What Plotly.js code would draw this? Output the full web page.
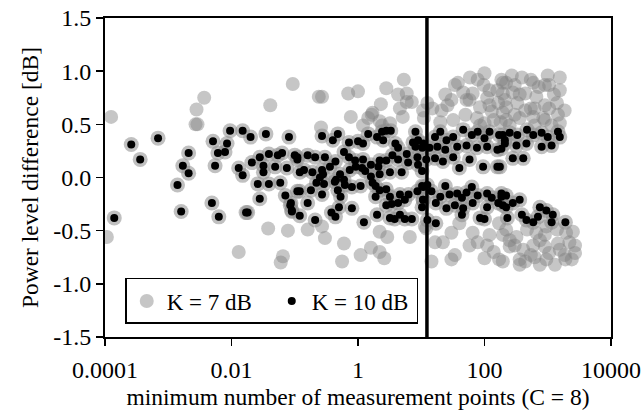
<!DOCTYPE html>
<html>
<head>
<meta charset="utf-8">
<script src="https://cdn.plot.ly/plotly-3.0.1.min.js"></script>
<style>html,body{margin:0;padding:0;background:#fff;}#chart{width:643px;height:412px;}</style>
</head>
<body>
<div id="chart"></div>
<script>
// K = 7 dB series (grey)
var k7X = [1.25e-4,1.07e-4,3.7e-3,2.8e-3,2.7e-3,2.9e-3,0.041,0.093,0.013,0.038,0.078,0.065,0.06,
  0.24,0.27,0.7,1.0,0.77,1.7,2.3,2.8,5.3,4.3,5.9,7.1,5.1,1.2,2.2,3.2,0.26,1.45,10.7,4.6,
  0.16,0.27,0.30,0.6,0.56,1.1,1.6,2.2,2.6,2.2,2.9,6.6,11.4,
  38,59,78,97,46,65,52,110,160,195,165,85,130,195,26,15,21,12.5,32,20,11,76,140,100,
  12,16.5,30,40,65,78,110,140,170,100,30,14.5,22,170,195,
  220,390,590,1000,1050,195,280,440,660,1400,900,220,330,540,1450,1550,850,590,360,220,1150,185,
  30,120,300,720,1250,440,900,1850,250,85,620,
  220,320,470,660,950,1400,1950,2500,250,410,590,900,1450,2200,2700,195,360,950,1900,1050,2400,620,
  300,750,1550,440,1300,1.65,2.4,5.9,
  34,58,120,210,360,540,900,1550,1050,620,300,180,50,24,1550,270,100,
  250,540,900,1850,2700,120,360,750,58,34];
var k7Y = [0.57,-0.56,0.75,0.64,0.50,0.50,0.68,0.88,-0.70,-0.48,-0.50,-0.74,-0.80,
  0.76,0.76,0.79,0.81,0.57,0.61,0.69,0.84,0.92,0.78,0.79,0.71,0.57,0.49,0.53,0.51,0.47,0.56,0.63,0.65,
  -0.49,-0.46,-0.57,-0.62,-0.79,-0.73,-0.66,-0.70,-0.76,-0.51,-0.56,-0.56,-0.46,
  0.89,0.94,0.92,0.87,0.80,0.79,0.73,0.75,0.82,0.89,0.70,0.66,0.62,0.61,0.68,0.65,0.63,0.70,0.54,0.52,0.56,0.56,0.54,0.51,
  -0.48,-0.61,-0.52,-0.43,-0.52,-0.61,-0.64,-0.70,-0.77,-0.76,-0.77,-0.79,-0.61,-0.43,-0.54,
  0.89,0.94,0.89,0.96,0.87,0.79,0.80,0.79,0.76,0.70,0.68,0.66,0.70,0.65,0.59,0.51,0.56,0.57,0.56,0.54,0.49,0.92,
  0.73,0.82,0.87,0.85,0.78,0.63,0.54,0.63,0.49,0.49,0.49,
  -0.49,-0.56,-0.49,-0.52,-0.46,-0.49,-0.52,-0.51,-0.65,-0.68,-0.64,-0.65,-0.62,-0.61,-0.71,-0.79,-0.77,-0.77,-0.77,-0.71,-0.77,-0.75,
  -0.64,-0.59,-0.68,-0.79,-0.82,0.59,0.49,0.71,
  0.87,0.73,0.68,0.73,0.78,0.92,0.87,0.82,0.65,0.65,0.59,0.52,0.59,0.78,0.94,0.96,0.98,
  -0.59,-0.73,-0.54,-0.73,-0.64,-0.54,-0.82,-0.82,-0.64,-0.73];

// K = 10 dB series (black)
var k10X = [1.4e-4,2.6e-4,3.6e-4,6.9e-4,2.1e-3,1.7e-3,2.1e-3,1.4e-3,1.6e-3,5.1e-3,8.5e-3,6.1e-3,7.9e-3,5.5e-3,
  9.5e-3,0.015,0.020,0.035,0.081,0.013,0.015,0.021,0.028,0.032,0.032,0.039,0.049,0.054,0.063,0.075,0.11,
  0.026,0.039,0.059,0.028,0.071,0.085,0.09,0.11,4.9e-3,6.3e-3,0.017,0.018,
  0.27,0.40,0.48,0.72,1.0,1.2,1.45,2.0,2.4,2.8,3.3,2.5,3.9,8.1,7.4,8.9,4.3,
  0.1,0.11,0.16,0.21,0.3,0.44,0.6,0.72,0.9,1.2,0.74,0.92,1.16,1.3,1.6,2.1,2.2,2.8,3.5,4.3,5.9,8.1,8.7,10.4,6.2,4.9,3.2,2.2,1.6,8.9,
  0.12,0.14,0.19,0.27,0.28,0.36,0.52,0.6,0.45,0.25,0.29,0.22,0.43,0.62,0.8,1.1,1.7,1.9,2.2,2.8,
  0.12,0.18,0.27,0.48,0.53,0.087,0.16,0.09,0.12,0.38,0.5,0.44,0.8,0.21,1.24,2.0,1.9,3.2,3.4,4.6,5.5,6.3,4.3,3.2,3.8,4.6,5.5,7.1,10.3,10.7,8.7,10.7,2.8,
  16.5,20,25,32,46,63,78,100,120,170,210,10.7,13.5,18,24,37,52,76,110,160,12,16.5,22,32,40,58,95,160,10.3,
  10.3,12.5,24,63,14.5,20,28,37,44,52,78,110,130,185,10.7,17,25,34,46,65,110,165,12.5,17,44,85,100,220,
  195,250,330,470,590,800,1000,1450,1550,210,320,460,800,1150,185,280,410,175,
  185,220,195,280,360,230,390,460,590,750,950,1200,1150,1900,700];
var k10Y = [-0.38,0.31,0.17,0.37,0.23,0.11,0.04,-0.07,-0.32,0.34,0.32,0.23,0.24,0.11,
  0.44,0.44,0.38,0.41,0.38,0.09,0.02,0.14,0.19,0.11,0.05,0.22,0.10,0.21,0.23,0.09,0.19,
  -0.06,-0.06,-0.05,-0.20,-0.17,-0.26,-0.32,-0.13,-0.24,-0.37,-0.33,-0.33,
  0.39,0.35,0.41,0.33,0.34,0.32,0.41,0.38,0.43,0.44,0.44,0.35,0.32,0.43,0.33,0.35,0.28,
  0.21,0.17,0.21,0.19,0.19,0.15,0.24,0.19,0.16,0.17,0.07,0.10,0.09,0.06,0.12,0.10,0.16,0.16,0.21,0.17,0.22,0.29,0.19,0.28,0.14,0.05,0.05,0.03,0.01,0.12,
  0.05,0.07,0.05,0.07,0.03,0.10,0.03,-0.02,-0.02,0.0,-0.06,-0.05,-0.04,-0.07,-0.09,-0.08,-0.05,-0.08,-0.12,-0.11,
  -0.13,-0.12,-0.16,-0.12,-0.18,-0.24,-0.24,-0.31,-0.36,-0.33,-0.28,-0.37,-0.29,-0.40,-0.42,-0.35,-0.18,-0.18,-0.25,-0.16,-0.21,-0.16,-0.24,-0.38,-0.39,-0.35,-0.39,-0.39,-0.28,-0.21,-0.13,-0.09,-0.26,
  0.38,0.43,0.35,0.38,0.45,0.40,0.43,0.37,0.43,0.40,0.35,0.32,0.28,0.29,0.26,0.29,0.30,0.28,0.29,0.26,0.17,0.18,0.15,0.19,0.09,0.17,0.10,0.10,0.06,
  -0.08,-0.07,-0.08,-0.09,-0.13,-0.18,-0.16,-0.15,-0.19,-0.14,-0.17,-0.15,-0.19,-0.18,-0.21,-0.24,-0.29,-0.26,-0.29,-0.24,-0.28,-0.24,-0.40,-0.43,-0.35,-0.38,-0.39,-0.28,
  0.40,0.42,0.40,0.45,0.40,0.42,0.38,0.43,0.38,0.32,0.30,0.32,0.29,0.30,0.27,0.18,0.18,0.10,
  -0.15,-0.17,-0.26,-0.24,-0.21,-0.38,-0.35,-0.40,-0.42,-0.28,-0.31,-0.35,-0.42,-0.42,-0.37];

var xTickVals = [0.0001, 0.01, 1, 100, 10000];
var xTickText = ['0.0001', '0.01', '1', '100', '10000'];
var yTickVals = [-1.5, -1.0, -0.5, 0.0, 0.5, 1.0, 1.5];
var yTickText = ['-1.5', '-1.0', '-0.5', '0.0', '0.5', '1.0', '1.5'];
var thresholdX = 12.3;

var FONT = 'Liberation Serif, Times New Roman, serif';

var traces = [
  {x: k7X, y: k7Y, type: 'scatter', mode: 'markers', name: 'K = 7 dB',
   marker: {size: 14, color: 'rgb(128,128,128)', opacity: 0.45}, hoverinfo: 'skip'},
  {x: k10X, y: k10Y, type: 'scatter', mode: 'markers', showlegend: false,
   marker: {size: 15, color: 'rgba(140,140,140,0.55)'}, hoverinfo: 'skip'},
  {x: k10X, y: k10Y, type: 'scatter', mode: 'markers', name: 'K = 10 dB',
   marker: {size: 8, color: 'black'}, hoverinfo: 'skip'}
];

var layout = {
  width: 643, height: 412,
  margin: {l: 105, r: 32, t: 18, b: 75},
  paper_bgcolor: 'white', plot_bgcolor: 'white',
  font: {family: FONT, size: 24, color: 'black'},
  xaxis: {type: 'log', range: [-4, 4], tickvals: xTickVals, ticktext: xTickText,
    showgrid: false, zeroline: false, showline: true, linecolor: 'black', linewidth: 2, mirror: true,
    ticks: 'outside', ticklen: 7, tickwidth: 1.5, tickcolor: 'black', ticklabelstandoff: 3,
    tickfont: {family: FONT, size: 24},
    title: {text: 'minimum number of measurement points (C = 8)', font: {family: FONT, size: 23.5}, standoff: 7}},
  yaxis: {range: [-1.5, 1.5], tickvals: yTickVals, ticktext: yTickText,
    showgrid: false, zeroline: false, showline: true, linecolor: 'black', linewidth: 2, mirror: true,
    ticks: 'outside', ticklen: 7, tickwidth: 1.5, tickcolor: 'black',
    tickfont: {family: FONT, size: 24},
    title: {text: 'Power level difference [dB]', font: {family: FONT, size: 23.5}, standoff: 8}},
  shapes: [{type: 'line', xref: 'x', yref: 'paper', x0: thresholdX, x1: thresholdX, y0: 0, y1: 1,
    line: {color: 'black', width: 3.5}}],
  legend: {orientation: 'h', x: 0.04, y: 0.185, xanchor: 'left', yanchor: 'top',
    entrywidth: 100, entrywidthmode: 'pixels',
    bgcolor: 'white', bordercolor: 'black', borderwidth: 1.5,
    font: {family: FONT, size: 23, color: 'black'}},
  showlegend: true
};

Plotly.newPlot('chart', traces, layout, {displayModeBar: false, staticPlot: true});
</script>
</body>
</html>
